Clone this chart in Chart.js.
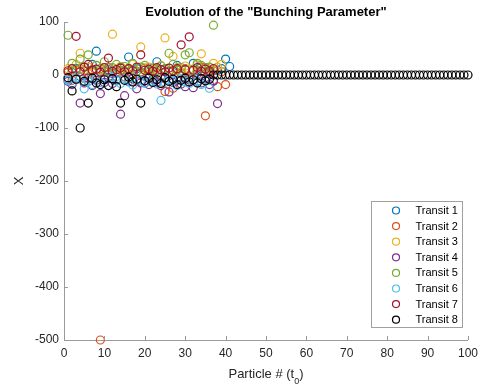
<!DOCTYPE html>
<html><head><meta charset="utf-8">
<script src="https://cdn.jsdelivr.net/npm/chart.js@4.4.0/dist/chart.umd.min.js"></script>
<style>html,body{margin:0;padding:0;background:#fff;}#wrap{width:484px;height:388px;}</style>
</head><body><div id="wrap"><canvas id="c" width="484" height="388"></canvas></div>
<script>
const chartTitle = 'Evolution of the "Bunching Parameter"';
const xTitleMain = 'Particle # (t';
const xTitleSub = '0';
const xTitleEnd = ')';
const yTitle = 'X';
const transitLabels = ['Transit 1','Transit 2','Transit 3','Transit 4','Transit 5','Transit 6','Transit 7','Transit 8'];
const transitColors = ['#0072BD','#D95319','#EDB120','#7E2F8E','#77AC30','#4DBEEE','#A2142F','#000000'];
const xTicks = [0,10,20,30,40,50,60,70,80,90,100];
const yTicks = [100,0,-100,-200,-300,-400,-500];

const transit1 = [-8,5,12,-3,8,-12,20,45,6,-5,10,3,-10,15,8,34,-6,12,4,-15,9,2,25,-4,11,7,-9,18,3,10,-5,22,8,-2,14,6,-12,9,12,30,16];
const transit2 = [5,-10,8,12,-6,3,10,-2,-500,7,14,-8,5,9,-4,11,2,-12,6,13,-3,8,4,-15,-31,6,-25,10,3,12,-6,9,2,15,-77,4,8,-22,6,-18];
const transit3 = [12,8,20,41,10,15,5,18,9,14,6,77,11,16,8,13,20,7,53,10,15,4,12,18,70,9,35,14,6,17,11,8,19,40,13,10,22,15,20];
const transit4 = [-12,-18,-8,-53,-15,-6,-20,-10,-35,-14,-5,-16,-9,-74,-39,-12,-7,-26,-15,-11,-18,-8,-13,-20,-6,-32,-14,-10,-17,-22,-9,-24,-12,-15,-8,-18,-11,-54];
const transit5 = [75,22,10,30,15,38,8,18,12,25,6,14,20,9,16,11,22,7,15,18,10,13,8,17,12,41,20,9,14,38,42,11,22,18,12,15,94];
const transit6 = [-10,-15,-5,-8,-26,-12,-18,-6,-14,-9,-20,-4,-11,-16,-7,-13,-19,-8,-10,-15,-6,-12,-17,-48,-14,-9,-11,-20,-7,-13,-16,-8,-12,-18,-10,-25];
const transit7 = [8,12,73,6,15,20,9,11,5,14,32,7,10,13,6,12,8,15,38,9,11,7,14,10,6,13,8,12,57,10,72,9,14,7,11,8,12];
const transit8 = [-5,-30,-8,-100,-12,-53,-6,-15,-18,-9,-20,-7,-22,-53,-10,-4,-13,-8,-53,-11,-6,-14,-9,-16,-5,-12,-8,-18,-10,-6,-13,-9,-15,-7,-11,-8,
  0,0,0,0,0,0,0,0,0,0,0,0,0,0,0,0,0,0,0,0,0,0,0,0,0,0,0,0,0,0,0,0,
  0,0,0,0,0,0,0,0,0,0,0,0,0,0,0,0,0,0,0,0,0,0,0,0,0,0,0,0,0,0,0,0];
const transits = [transit1,transit2,transit3,transit4,transit5,transit6,transit7,transit8];

const FONT = '"Liberation Sans", Arial, Helvetica, sans-serif';

const datasets = transits.map((vals, i) => ({
  label: transitLabels[i],
  data: vals.map((v, k) => ({x: k + 1, y: v})),
  borderColor: transitColors[i],
  backgroundColor: 'rgba(0,0,0,0)',
  pointRadius: 4,
  pointBorderWidth: 1.2,
  pointStyle: 'circle',
  showLine: false,
  clip: false,
  order: transits.length - 1 - i
}));

const decor = {
  id: 'decor',
  afterDraw(chart) {
    const ctx = chart.ctx, a = chart.chartArea, xs = chart.scales.x, ys = chart.scales.y;
    ctx.save();
    ctx.strokeStyle = '#9a9a9a'; ctx.lineWidth = 1;
    ctx.beginPath();
    xTicks.forEach(v => { const px = Math.round(xs.getPixelForValue(v)) + 0.5; ctx.moveTo(px, a.bottom); ctx.lineTo(px, a.bottom - 4); });
    yTicks.forEach(v => { const py = Math.round(ys.getPixelForValue(v)) + 0.5; ctx.moveTo(a.left, py); ctx.lineTo(a.left + 4, py); });
    ctx.stroke();
    ctx.fillStyle = '#000';
    ctx.font = 'bold 13px ' + FONT;
    ctx.textAlign = 'center'; ctx.textBaseline = 'middle';
    ctx.fillText(chartTitle, (a.left + a.right) / 2, 12);
    ctx.fillStyle = '#262626';
    ctx.textAlign = 'left'; ctx.textBaseline = 'alphabetic';
    const mainFont = '13px ' + FONT, subFont = '9px ' + FONT;
    ctx.font = mainFont; const w1 = ctx.measureText(xTitleMain).width; const w3 = ctx.measureText(xTitleEnd).width;
    ctx.font = subFont; const w2 = ctx.measureText(xTitleSub).width;
    let sx = (a.left + a.right) / 2 - (w1 + w2 + w3) / 2;
    ctx.font = mainFont; ctx.fillText(xTitleMain, sx, 378);
    ctx.font = subFont; ctx.fillText(xTitleSub, sx + w1, 384);
    ctx.font = mainFont; ctx.fillText(xTitleEnd, sx + w1 + w2, 378);
    ctx.save();
    ctx.translate(19, (a.top + a.bottom) / 2);
    ctx.rotate(-Math.PI / 2);
    ctx.textAlign = 'center'; ctx.textBaseline = 'middle';
    ctx.font = '13px ' + FONT;
    ctx.fillText(yTitle, 0, 0);
    ctx.restore();
    const lx = 371.5, ly = 201.5, lw = 91, lh = 126;
    ctx.fillStyle = '#fff'; ctx.fillRect(lx, ly, lw, lh);
    ctx.strokeStyle = '#a0a0a0'; ctx.lineWidth = 1; ctx.strokeRect(lx, ly, lw, lh);
    ctx.font = '11px ' + FONT; ctx.textAlign = 'left'; ctx.textBaseline = 'middle';
    ctx.lineWidth = 1.2;
    chart.data.datasets.forEach((ds, i) => {
      const cy = 210.5 + i * 15.6;
      ctx.beginPath(); ctx.arc(396, cy, 3.5, 0, Math.PI * 2);
      ctx.strokeStyle = ds.borderColor; ctx.stroke();
      ctx.fillStyle = '#000'; ctx.fillText(ds.label, 415.5, cy + 0.5);
    });
    ctx.restore();
  }
};

new Chart(document.getElementById('c'), {
  type: 'scatter',
  data: { datasets },
  options: {
    responsive: false, animation: false, devicePixelRatio: 1, events: [],
    layout: { padding: { top: 22, right: 12, left: 0, bottom: 0 } },
    plugins: { legend: { display: false }, title: { display: false }, tooltip: { enabled: false } },
    scales: {
      x: {
        type: 'linear', min: 0, max: 100,
        afterFit: s => { s.height = 48; },
        afterBuildTicks: s => { s.ticks = xTicks.map(v => ({value: v})); },
        ticks: { padding: 6, color: '#262626', font: { family: FONT, size: 12 }, maxRotation: 0 },
        grid: { display: false, drawTicks: false },
        border: { display: true, color: '#9a9a9a', width: 1 }
      },
      y: {
        type: 'linear', min: -500, max: 100,
        afterFit: s => { s.width = 64; },
        afterBuildTicks: s => { s.ticks = yTicks.map(v => ({value: v})); },
        ticks: { padding: 5, color: '#262626', font: { family: FONT, size: 12 } },
        grid: { display: false, drawTicks: false },
        border: { display: true, color: '#9a9a9a', width: 1 }
      }
    }
  },
  plugins: [decor]
});
</script></body></html>
